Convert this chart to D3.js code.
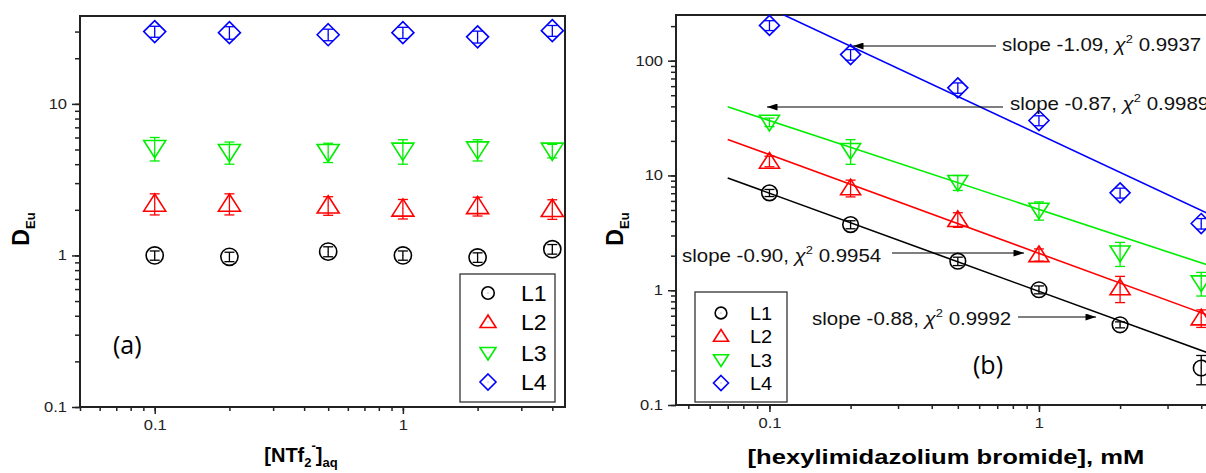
<!DOCTYPE html>
<html><head><meta charset="utf-8">
<script src="https://cdn.jsdelivr.net/npm/d3@7"></script>
<style>
html,body{margin:0;padding:0;background:#fff;overflow:hidden}
svg{display:block;font-family:"Liberation Sans",Arial,sans-serif}
</style></head>
<body>
<svg id="chart" width="1206" height="473"></svg>
<script>
// ---------- DATA ----------
const seriesNames = ["L1", "L2", "L3", "L4"];
const seriesColors = ["#000000", "#ff0000", "#00ee00", "#0000ff"];
const seriesShapes = ["circle", "triUp", "triDown", "diamond"];

// Panel (a): D_Eu vs [NTf2-]aq
const xA = [0.1, 0.2, 0.5, 1, 2, 4];
const a_L1 = [1.0, 0.98, 1.06, 1.0, 0.97, 1.10];
const a_L2 = [2.2, 2.2, 2.14, 2.04, 2.12, 2.03];
const a_L3 = [5.1, 4.8, 4.8, 4.9, 5.0, 4.9];
const a_L4 = [30.0, 29.5, 28.6, 29.5, 27.7, 30.4];
const aErr_L1 = [0.07, 0.07, 0.08, 0.07, 0.07, 0.08];
const aErr_L2 = [0.35, 0.35, 0.3, 0.3, 0.3, 0.3];
const aErr_L3 = [0.9, 0.8, 0.7, 0.9, 0.8, 0.5];
const aErr_L4 = [2.5, 2.8, 2.5, 2.5, 2.5, 2.5];

// Panel (b): D_Eu vs [hexylimidazolium bromide], mM
const xB = [0.1, 0.2, 0.5, 1, 2, 4];
const b_L1 = [7.05, 3.73, 1.79, 1.01, 0.50, 0.21];
const b_L2 = [13.3, 7.8, 4.13, 2.04, 1.05, 0.574];
const b_L3 = [29.1, 16.5, 8.7, 4.98, 2.11, 1.16];
const b_L4 = [203, 113, 58, 30.1, 7.05, 3.81];
const bErr_L1 = [0.5, 0.3, 0.15, 0.08, 0.03, 0.06];
const bErr_L2 = [1.4, 1.3, 0.6, 0.25, 0.27, 0.1];
const bErr_L3 = [2.5, 4.0, 1.3, 0.9, 0.5, 0.27];
const bErr_L4 = [20, 12, 6, 3, 0.7, 0.4];

// Fitted lines (panel b), endpoints
const fitX = [0.07, 4.5];
const fit_L1 = [9.5, 0.27];
const fit_L2 = [20.6, 0.575];
const fit_L3 = [39.6, 1.58];
const fit_L4 = [424, 4.35];

const fitLabels = [
  {slope: "-0.88", chi: "0.9992"},
  {slope: "-0.90", chi: "0.9954"},
  {slope: "-0.87", chi: "0.9989"},
  {slope: "-1.09", chi: "0.9937"}
];

const xTicksMajor = [0.1, 1];
const yTicksA = [0.1, 1, 10];
const yTicksB = [0.1, 1, 10, 100];

// ---------- DRAW ----------
const SX = 1.18; // horizontal stretch of the original figure's text
const svg = d3.select("#chart");
const defs = svg.append("defs");
defs.append("marker").attr("id", "arrow").attr("viewBox", "0 0 12 8")
  .attr("refX", 12).attr("refY", 4).attr("markerWidth", 12).attr("markerHeight", 7)
  .attr("markerUnits", "userSpaceOnUse").attr("orient", "auto")
  .append("path").attr("d", "M0,0L12,4L0,8Z").attr("fill", "#000");

function shapePath(shape, s) {
  switch (shape) {
    case "triUp": { const h = s * 0.87; return `M0,${-h}L${s},${h * 0.8}L${-s},${h * 0.8}Z`; }
    case "triDown": { const h = s * 0.87; return `M0,${h}L${s},${-h * 0.8}L${-s},${-h * 0.8}Z`; }
    case "diamond": return `M0,${-s}L${s},0L0,${s}L${-s},0Z`;
  }
  return null;
}
function drawMarker(g, shape, color, s, cx, cy) {
  const m = g.append("g").attr("transform", `translate(${cx},${cy})`);
  if (shape === "circle") {
    m.append("circle").attr("r", s * 0.78).attr("fill", "none").attr("stroke", color).attr("stroke-width", 1.6);
  } else {
    m.append("path").attr("d", shapePath(shape, s)).attr("fill", "none").attr("stroke", color).attr("stroke-width", 1.6);
  }
  m.append("rect").attr("x", -0.5).attr("y", -0.5).attr("width", 1).attr("height", 1).attr("fill", color).attr("opacity", 0.5);
}

function minorTicks(domain) {
  const out = [];
  for (let e = -3; e <= 3; e++) {
    for (let k = 1; k <= 9; k++) {
      const v = k * Math.pow(10, e);
      if (v >= domain[0] * 0.999 && v <= domain[1] * 1.001) out.push(v);
    }
  }
  return out;
}

// text placed at (x,y) and stretched horizontally
function stext(parent, x, y, sx) {
  return parent.append("g").attr("transform", `translate(${x},${y}) scale(${sx},1)`).append("text");
}

function panel(opt) {
  const x = d3.scaleLog().domain(opt.xDomain).range([opt.left, opt.right]);
  const y = d3.scaleLog().domain(opt.yDomain).range([opt.bottom, opt.top]);
  const g = svg.append("g");

  g.append("rect").attr("x", opt.left).attr("y", opt.top)
    .attr("width", opt.right - opt.left).attr("height", opt.bottom - opt.top)
    .attr("fill", "none").attr("stroke", "#222").attr("stroke-width", 2);

  const xAxis = d3.axisBottom(x).tickValues(minorTicks(opt.xDomain)).tickSize(4).tickFormat("");
  g.append("g").attr("transform", `translate(0,${opt.bottom})`).call(xAxis)
    .call(s => s.select(".domain").remove())
    .call(s => s.selectAll("line").attr("stroke", "#222").attr("stroke-width", 1.5));
  const xAxisMaj = d3.axisBottom(x).tickValues(xTicksMajor).tickSize(7).tickPadding(6)
    .tickFormat(d => d3.format("")(d));
  g.append("g").attr("transform", `translate(0,${opt.bottom})`).call(xAxisMaj)
    .call(s => s.select(".domain").remove())
    .call(s => s.selectAll("line").attr("stroke", "#222").attr("stroke-width", 1.5))
    .call(s => s.selectAll("text").attr("font-size", 14).attr("fill", "#222")
      .attr("font-family", "Liberation Sans, Arial, sans-serif").attr("transform", `scale(${SX},1)`));

  const yAxis = d3.axisLeft(y).tickValues(minorTicks(opt.yDomain)).tickSize(5).tickFormat("");
  g.append("g").attr("transform", `translate(${opt.left},0)`).call(yAxis)
    .call(s => s.select(".domain").remove())
    .call(s => s.selectAll("line").attr("stroke", "#222").attr("stroke-width", 1.5));
  const yAxisMaj = d3.axisLeft(y).tickValues(opt.yTicks).tickSize(8).tickPadding(3)
    .tickFormat(d => d3.format("")(d));
  g.append("g").attr("transform", `translate(${opt.left},0)`).call(yAxisMaj)
    .call(s => s.select(".domain").remove())
    .call(s => s.selectAll("line").attr("stroke", "#222").attr("stroke-width", 1.5))
    .call(s => s.selectAll("text").attr("font-size", 14).attr("fill", "#222")
      .attr("font-family", "Liberation Sans, Arial, sans-serif").attr("transform", `scale(${SX},1)`));

  const cid = "clip" + opt.id;
  defs.append("clipPath").attr("id", cid).append("rect")
    .attr("x", opt.left).attr("y", opt.top).attr("width", opt.right - opt.left).attr("height", opt.bottom - opt.top);

  if (opt.fits) {
    const line = d3.line().x(d => x(d[0])).y(d => y(d[1]));
    opt.fits.forEach((f, i) => {
      g.append("path").attr("clip-path", `url(#${cid})`)
        .datum(fitX.map((xv, j) => [xv, f[j]]))
        .attr("d", line).attr("fill", "none").attr("stroke", seriesColors[i]).attr("stroke-width", 1.6);
    });
  }

  opt.series.forEach((vals, i) => {
    const col = seriesColors[i];
    vals.forEach((v, j) => {
      const cx = x(opt.xs[j]);
      const e = opt.errs[i][j];
      const y1 = y(v + e), y0 = y(Math.max(v - e, 1e-3));
      g.append("line").attr("x1", cx).attr("x2", cx).attr("y1", y1).attr("y2", y0)
        .attr("stroke", col).attr("stroke-width", 1.3);
      [y1, y0].forEach(yy => g.append("line").attr("x1", cx - opt.cap).attr("x2", cx + opt.cap)
        .attr("y1", yy).attr("y2", yy).attr("stroke", col).attr("stroke-width", 1.3));
      drawMarker(g, seriesShapes[i], col, opt.ms, cx, y(v));
    });
  });

  const L = opt.legend;
  g.append("rect").attr("x", L.x).attr("y", L.y).attr("width", L.w).attr("height", L.h)
    .attr("fill", "#fff").attr("stroke", "#333").attr("stroke-width", 1.3);
  seriesNames.forEach((n, i) => {
    const cy = L.y + L.rows[i];
    drawMarker(g, seriesShapes[i], seriesColors[i], L.ms, L.symX, cy);
    stext(g, L.textX, cy, 1.05).attr("dy", "0.36em")
      .attr("font-size", L.fs).attr("fill", "#000").text(n);
  });

  stext(g, opt.tag.x, opt.tag.y, 1.0).attr("dy", "0.36em")
    .attr("font-size", 25).attr("font-family", "Open Sans, Liberation Sans, sans-serif").text(opt.tag.t);

  const yl = g.append("text").attr("transform", `translate(${opt.ylab.x},${opt.ylab.y}) rotate(-90)`)
    .attr("text-anchor", "middle").attr("font-weight", "bold").attr("font-size", 23);
  yl.append("tspan").text("D");
  yl.append("tspan").attr("font-size", 13).attr("dy", 6).text("Eu");

  return {x, y, g};
}

panel({
  id: "A", left: 80, right: 565, top: 16, bottom: 407,
  xDomain: [0.05, 4.5], yDomain: [0.1, 38], yTicks: yTicksA,
  xs: xA, series: [a_L1, a_L2, a_L3, a_L4], errs: [aErr_L1, aErr_L2, aErr_L3, aErr_L4],
  ms: 11, cap: 5,
  legend: {x: 460, y: 274, w: 95, h: 128, rows: [19, 48, 79, 108], symX: 488, textX: 521, ms: 8, fs: 22},
  tag: {x: 113, y: 345, t: "(a)"},
  ylab: {x: 29, y: 229}
});
{
  const t = svg.append("text").attr("x", 301).attr("y", 462).attr("text-anchor", "middle")
    .attr("font-weight", "bold").attr("font-size", 20);
  t.append("tspan").text("[NTf");
  t.append("tspan").attr("font-size", 13).attr("dy", 5).text("2");
  t.append("tspan").attr("font-size", 13).attr("dy", -17).text("-");
  t.append("tspan").attr("dy", 12).text("]");
  t.append("tspan").attr("font-size", 13).attr("dy", 5).text("aq");
}

panel({
  id: "B", left: 676, right: 1215, top: 15, bottom: 405,
  xDomain: [0.045, 4.5], yDomain: [0.1, 250], yTicks: yTicksB,
  xs: xB, series: [b_L1, b_L2, b_L3, b_L4], errs: [bErr_L1, bErr_L2, bErr_L3, bErr_L4],
  ms: 10, cap: 5,
  fits: [fit_L1, fit_L2, fit_L3, fit_L4],
  legend: {x: 695, y: 292, w: 92, h: 110, rows: [21, 44, 68, 91], symX: 721, textX: 750, ms: 7.5, fs: 19},
  tag: {x: 973, y: 365, t: "(b)"},
  ylab: {x: 623, y: 229}
});
stext(svg, 946, 464, 1.22).attr("text-anchor", "middle")
  .attr("font-weight", "bold").attr("font-size", 21).text("[hexylimidazolium bromide], mM");

const ann = [
  {i: 3, tx: 1002, ty: 45, ax0: 996, ax1: 853, ay: 46},
  {i: 2, tx: 1010, ty: 104, ax0: 1003, ax1: 767, ay: 107},
  {i: 1, tx: 682, ty: 256, ax0: 892, ax1: 1024, ay: 253},
  {i: 0, tx: 812, ty: 319, ax0: 1018, ax1: 1096, ay: 317}
];
ann.forEach(a => {
  svg.append("line").attr("x1", a.ax0).attr("x2", a.ax1).attr("y1", a.ay).attr("y2", a.ay)
    .attr("stroke", "#000").attr("stroke-width", 1.2).attr("marker-end", "url(#arrow)");
  const f = fitLabels[a.i];
  const t = stext(svg, a.tx, a.ty, 1.17).attr("dy", "0.36em")
    .attr("font-size", 17.5).attr("fill", "#111");
  t.append("tspan").text(`slope ${f.slope}, `);
  t.append("tspan").attr("font-style", "italic").text("χ");
  t.append("tspan").attr("font-size", 11).attr("dy", -8).text("2");
  t.append("tspan").attr("dy", 8).text(" " + f.chi);
});
</script>
</body></html>
